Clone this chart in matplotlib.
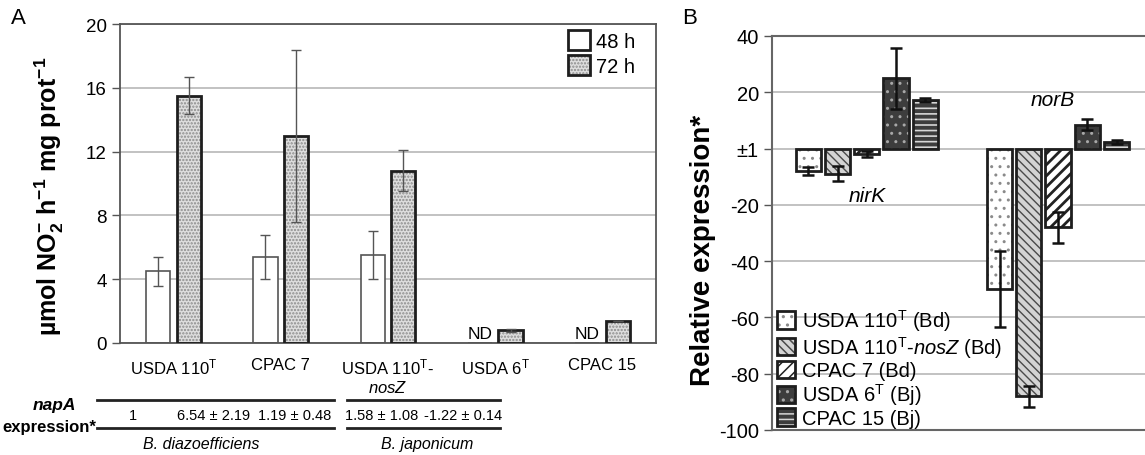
import numpy as np
import matplotlib
matplotlib.use('Agg')
import matplotlib.pyplot as plt
from matplotlib.patches import Patch
from matplotlib.lines import Line2D
from matplotlib.legend_handler import HandlerTuple

plt.rcParams['font.family'] = ['Liberation Sans', 'DejaVu Sans']
plt.rcParams['mathtext.fontset'] = 'custom'
plt.rcParams['mathtext.rm'] = 'Liberation Sans'
plt.rcParams['mathtext.it'] = 'Liberation Sans:italic'
plt.rcParams['mathtext.bf'] = 'Liberation Sans:bold'
plt.rcParams['axes.unicode_minus'] = False
plt.rcParams['hatch.linewidth'] = 1.1

# ---- panel A data: nitrite production ----
strains_a = ['USDA 110$^\\mathrm{T}$', 'CPAC 7', 'USDA 110$^\\mathrm{T}$-\n$\\mathit{nosZ}$',
             'USDA 6$^\\mathrm{T}$', 'CPAC 15']
no2_48h = [4.5, 5.4, 5.5, 0, 0]
err_48h = [0.9, 1.4, 1.5, 0, 0]
nd_48h = [False, False, False, True, True]
no2_72h = [15.5, 13.0, 10.8, 0.8, 1.4]
err_72h = [1.15, 5.4, 1.3, 0.1, 0]
napA_expr = ['1', '6.54 ± 2.19', '1.19 ± 0.48', '1.58 ± 1.08', '-1.22 ± 0.14']
species = ['B. diazoefficiens', 'B. japonicum']

# ---- panel B data: relative expression ----
genes = ['nirK', 'norB']
strains_b = ['USDA 110$^\\mathrm{T}$ (Bd)', 'USDA 110$^\\mathrm{T}$-$\\mathit{nosZ}$ (Bd)',
             'CPAC 7 (Bd)', 'USDA 6$^\\mathrm{T}$ (Bj)', 'CPAC 15 (Bj)']
rel_expr = [[-8, -50], [-9, -88], [-2, -28], [25, 8.5], [17.2, 2.4]]
rel_err = [[1.5, 13.5], [2.7, 3.7], [1.0, 5.6], [10.8, 1.9], [0.6, 0.8]]

W, H = 1145, 456
def fx(x):
    return x / W
def fy(y):
    return 1 - y / H

fig = plt.figure(figsize=(W / 100, H / 100), dpi=100)
edge = '#1e1e1e'

# ================= panel A =================
axA = fig.add_axes([fx(120), fy(344), (656 - 120) / W, (344 - 25) / H])
xa = np.arange(len(strains_a))
off, wa = 0.143, 0.225
stip_face, stip_hatch = '#dedede', '#8c8c8c'

axA.bar(xa - off, no2_48h, wa, color='white', edgecolor='#555555', linewidth=1.2, zorder=2)
axA.errorbar(xa[:3] - off, no2_48h[:3], yerr=err_48h[:3], fmt='none', ecolor='#555555',
             elinewidth=1, capsize=3.5, capthick=1, zorder=4)
axA.bar(xa + off, no2_72h, wa, color=stip_face, edgecolor=stip_hatch, hatch='.....',
        linewidth=0, zorder=2)
axA.bar(xa + off, no2_72h, wa, fill=False, edgecolor=edge, linewidth=2, zorder=3)
axA.errorbar(xa + off, no2_72h, yerr=err_72h, fmt='none', ecolor='#555555',
             elinewidth=1, capsize=3.5, capthick=1, zorder=4)
for i, nd in enumerate(nd_48h):
    if nd:
        axA.text(xa[i] - off, 0.15, 'ND', ha='center', va='bottom', fontsize=12.5)

axA.set_xlim(-0.5, 4.5)
axA.set_ylim(0, 20)
axA.set_yticks(np.arange(0, 21, 4))
axA.set_xticks(xa)
axA.set_xticklabels(strains_a, fontsize=12)
axA.tick_params(axis='x', length=0, pad=10)
axA.tick_params(axis='y', labelsize=13.5, length=6, color='#555555', width=1)
axA.yaxis.grid(True, color='#bdbdbd', linewidth=1.3)
axA.set_axisbelow(True)
for s in ['left', 'right', 'top', 'bottom']:
    axA.spines[s].set_color('#555555')
    axA.spines[s].set_linewidth(1.3)
axA.set_ylabel('µmol NO$_\\mathbf{2}^\\mathbf{-}$ h$^\\mathbf{-1}$ mg prot$^\\mathbf{-1}$',
               fontsize=18, fontweight='bold')
axA.yaxis.set_label_coords(-0.1, 0.464)

hA = [Patch(facecolor='white', edgecolor=edge, linewidth=2),
      (Patch(facecolor=stip_face, edgecolor=stip_hatch, hatch='.....', linewidth=0),
       Patch(fill=False, edgecolor=edge, linewidth=2))]
fig.legend(hA, ['48 h', '72 h'], loc='upper left', bbox_to_anchor=(fx(568), fy(31)),
           frameon=False, fontsize=14.5, handlelength=1.1, handleheight=1.15,
           handletextpad=0.3, labelspacing=0.2, borderpad=0, borderaxespad=0,
           handler_map={tuple: HandlerTuple(ndivide=1)})

# napA expression table under panel A
for x0, x1 in [(97, 334), (347, 500)]:
    for yy in [400.7, 429]:
        fig.add_artist(Line2D([fx(x0), fx(x1)], [fy(yy), fy(yy)], color='#222222', linewidth=2))
fig.text(fx(54), fy(406), 'napA', ha='center', va='center', fontsize=12.5,
         fontweight='bold', style='italic')
fig.text(fx(49), fy(428), 'expression*', ha='center', va='center', fontsize=12,
         fontweight='bold')
for xv, txt in zip([133, 214, 295, 382, 463], napA_expr):
    fig.text(fx(xv), fy(416), txt, ha='center', va='center', fontsize=10.5)
for xv, txt in zip([201, 427], species):
    fig.text(fx(xv), fy(445), txt, ha='center', va='center', fontsize=11.5, style='italic')

fig.text(fx(18), fy(19), 'A', ha='center', va='center', fontsize=16)
fig.text(fx(690), fy(19), 'B', ha='center', va='center', fontsize=16)

# ================= panel B =================
axB = fig.add_axes([fx(772), fy(431), (W - 772) / W, (431 - 37) / H])
xb = np.arange(len(genes))
step, wb = 0.153, 0.132
styles_b = [('white', '#8a8a8a', '..'),
            ('#d4d4d4', '#4a4a4a', '\\\\\\\\'),
            ('white', '#222222', '///'),
            ('#3d3d3d', '#a8a8a8', '..'),
            ('#3d3d3d', '#d6d6d6', '---')]
hatch_lw = [1.0, 1.0, 2.0, 1.0, 1.2]
hB = []
for i, (vals, errs, (fc, hc, hp)) in enumerate(zip(rel_expr, rel_err, styles_b)):
    pos = xb + (i - 2) * step
    bars = axB.bar(pos, vals, wb, color=fc, edgecolor=hc, hatch=hp, linewidth=0, zorder=2)
    hp_patch = Patch(facecolor=fc, edgecolor=hc, hatch=hp, linewidth=0)
    for p in list(bars) + [hp_patch]:
        if hasattr(p, 'set_hatch_linewidth'):
            p.set_hatch_linewidth(hatch_lw[i])
    axB.bar(pos, vals, wb, fill=False, edgecolor=edge, linewidth=2, zorder=3)
    axB.errorbar(pos, vals, yerr=errs, fmt='none', ecolor='#111111', elinewidth=1.8,
                 capsize=4, capthick=1.8, zorder=4)
    hB.append((hp_patch, Patch(fill=False, edgecolor=edge, linewidth=2)))

axB.text(0, -16.7, 'nirK', ha='center', va='center', fontsize=15, style='italic')
axB.text(0.971, 17.4, 'norB', ha='center', va='center', fontsize=15, style='italic')

axB.set_xlim(-0.496, 1.455)
axB.set_ylim(-100, 40)
axB.set_yticks(np.arange(-100, 41, 20))
axB.set_yticklabels(['-100', '-80', '-60', '-40', '-20', '±1', '20', '40'])
axB.set_xticks([])
axB.tick_params(axis='y', labelsize=14.5, length=6, color='#555555', width=1)
axB.yaxis.grid(True, color='#bdbdbd', linewidth=1.3)
axB.set_axisbelow(True)
axB.spines['right'].set_visible(False)
for s in ['left', 'top', 'bottom']:
    axB.spines[s].set_color('#666666')
    axB.spines[s].set_linewidth(1.5)
axB.set_ylabel('Relative expression*', fontsize=20, fontweight='bold')
axB.yaxis.set_label_coords(-0.15, 0.459)

fig.legend(hB, strains_b, loc='lower left', bbox_to_anchor=(fx(777), fy(429)),
           frameon=False, fontsize=14.5, handlelength=0.9, handleheight=0.95,
           handletextpad=0.35, labelspacing=0.05, borderpad=0, borderaxespad=0,
           handler_map={tuple: HandlerTuple(ndivide=1)})

fig.savefig('out.png', dpi=100)
